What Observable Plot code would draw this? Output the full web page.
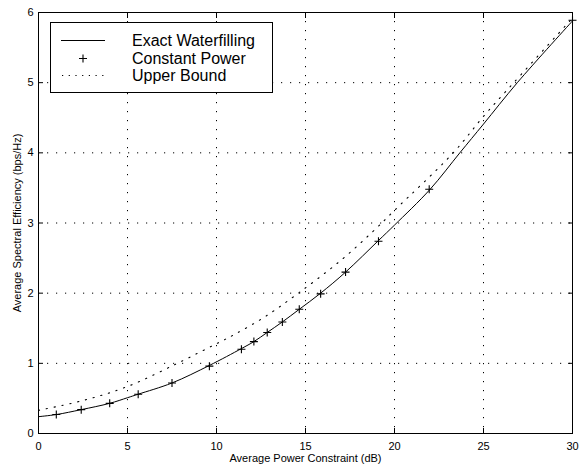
<!DOCTYPE html>
<html><head><meta charset="utf-8">
<script src="https://cdn.jsdelivr.net/npm/d3@7"></script>
<script src="https://cdn.jsdelivr.net/npm/@observablehq/plot@0.6"></script>
<style>body{margin:0;background:#fff} #chart{position:relative;width:580px;height:464px}</style>
</head><body><div id="chart"></div>
<script>
const xTicks = [0, 5, 10, 15, 20, 25, 30];
const yTicks = [0, 1, 2, 3, 4, 5, 6];
const seriesNames = ["Exact Waterfilling", "Constant Power", "Upper Bound"];
const xLabel = "Average Power Constraint (dB)";
const yLabel = "Average Spectral Efficiency (bps/Hz)";

const waterX = [0, 1, 2.4, 4, 5, 5.6, 7.5, 9.6, 11.4, 12.1, 12.85, 13.7, 14.65, 15.85, 17.25, 19.1, 20, 22, 23.67, 25, 26.9, 30];
const waterY = [0.24, 0.27, 0.34, 0.43, 0.51, 0.56, 0.72, 0.97, 1.21, 1.31, 1.44, 1.59, 1.77, 2.0, 2.3, 2.75, 2.97, 3.48, 4.0, 4.41, 5.0, 5.88];

const constX = [1.0, 2.4, 4.0, 5.6, 7.5, 9.6, 11.4, 12.1, 12.85, 13.7, 14.65, 15.85, 17.25, 19.1, 21.95, 30];
const constY = [0.27, 0.34, 0.43, 0.56, 0.72, 0.96, 1.20, 1.31, 1.44, 1.59, 1.77, 1.99, 2.30, 2.74, 3.48, 5.89];

const upperX = [0, 2.5, 5, 7.8, 10, 11, 12.7, 14.6, 17, 18.75, 20, 23.3, 25, 26.7, 30];
const upperY = [0.33, 0.47, 0.67, 1.0, 1.28, 1.41, 1.66, 2.0, 2.47, 2.87, 3.18, 4.0, 4.52, 5.0, 5.92];

const water = waterX.map((x, i) => ({x, y: waterY[i]}));
const constant = constX.map((x, i) => ({x, y: constY[i]}));
const upper = upperX.map((x, i) => ({x, y: upperY[i]}));

const plus = {
  draw(ctx, size) {
    const r = Math.sqrt(size / Math.PI);
    ctx.moveTo(-r, 0); ctx.lineTo(r, 0);
    ctx.moveTo(0, -r); ctx.lineTo(0, r);
  }
};

const font = "'Liberation Sans', Arial, Helvetica, sans-serif";
const gridStyle = {stroke: "black", strokeOpacity: 1, strokeWidth: 1, strokeDasharray: "1.2,7.8"};

const chart = Plot.plot({
  width: 580, height: 464,
  marginLeft: 38, marginRight: 8, marginTop: 12, marginBottom: 31,
  style: {fontFamily: font, fontSize: "11px", background: "white", color: "black"},
  x: {domain: [0, 30], label: null},
  y: {domain: [0, 6], label: null},
  marks: [
    Plot.gridX(xTicks, gridStyle),
    Plot.gridY(yTicks, gridStyle),
    Plot.line(upper, {x: "x", y: "y", stroke: "black", strokeWidth: 1.1, strokeDasharray: "1.2,6.8", curve: "catmull-rom"}),
    Plot.line(water, {x: "x", y: "y", stroke: "black", strokeWidth: 1, curve: "catmull-rom"}),
    Plot.dot(constant, {x: "x", y: "y", symbol: plus, r: 4, stroke: "black", fill: "none", strokeWidth: 1.1}),
    Plot.frame({stroke: "black", strokeWidth: 1}),
    Plot.axisX(xTicks, {anchor: "bottom", tickSize: -5, tickPadding: 13.6, tickFormat: d => String(d), label: xLabel, labelAnchor: "center", labelArrow: "none"}),
    Plot.axisX(xTicks, {anchor: "top", tickSize: -5, tickFormat: () => "", label: null}),
    Plot.axisY(yTicks, {anchor: "left", tickSize: -5, tickPadding: 10, tickFormat: d => String(d), label: yLabel, labelAnchor: "center", labelArrow: "none", labelOffset: 25}),
    Plot.axisY(yTicks, {anchor: "right", tickSize: -5, tickFormat: () => "", label: null})
  ]
});

document.getElementById("chart").appendChild(chart);

// Legend
const svg = d3.select(chart);
const lg = svg.append("g").attr("font-family", font).attr("font-size", 16).attr("fill", "black").attr("text-anchor", "start");
lg.append("rect").attr("x", 50.5).attr("y", 22.5).attr("width", 222).attr("height", 70)
  .attr("fill", "white").attr("stroke", "black").attr("stroke-width", 1);
const rows = [40, 58, 75];
lg.append("line").attr("x1", 61).attr("x2", 105).attr("y1", rows[0] + 0.5).attr("y2", rows[0] + 0.5)
  .attr("stroke", "black").attr("stroke-width", 1);
lg.append("path").attr("d", `M79,${rows[1] + 0.5}h8M83,${rows[1] - 3.5}v8`).attr("stroke", "black").attr("stroke-width", 1.1).attr("fill", "none");
lg.append("line").attr("x1", 62).attr("x2", 106).attr("y1", rows[2] + 0.5).attr("y2", rows[2] + 0.5)
  .attr("stroke", "black").attr("stroke-width", 1.1).attr("stroke-dasharray", "1.2,5.5");
seriesNames.forEach((name, i) => {
  lg.append("text").attr("x", 132).attr("y", rows[i] + 5.5).attr("text-anchor", "start").text(name);
});
</script>
</body></html>
